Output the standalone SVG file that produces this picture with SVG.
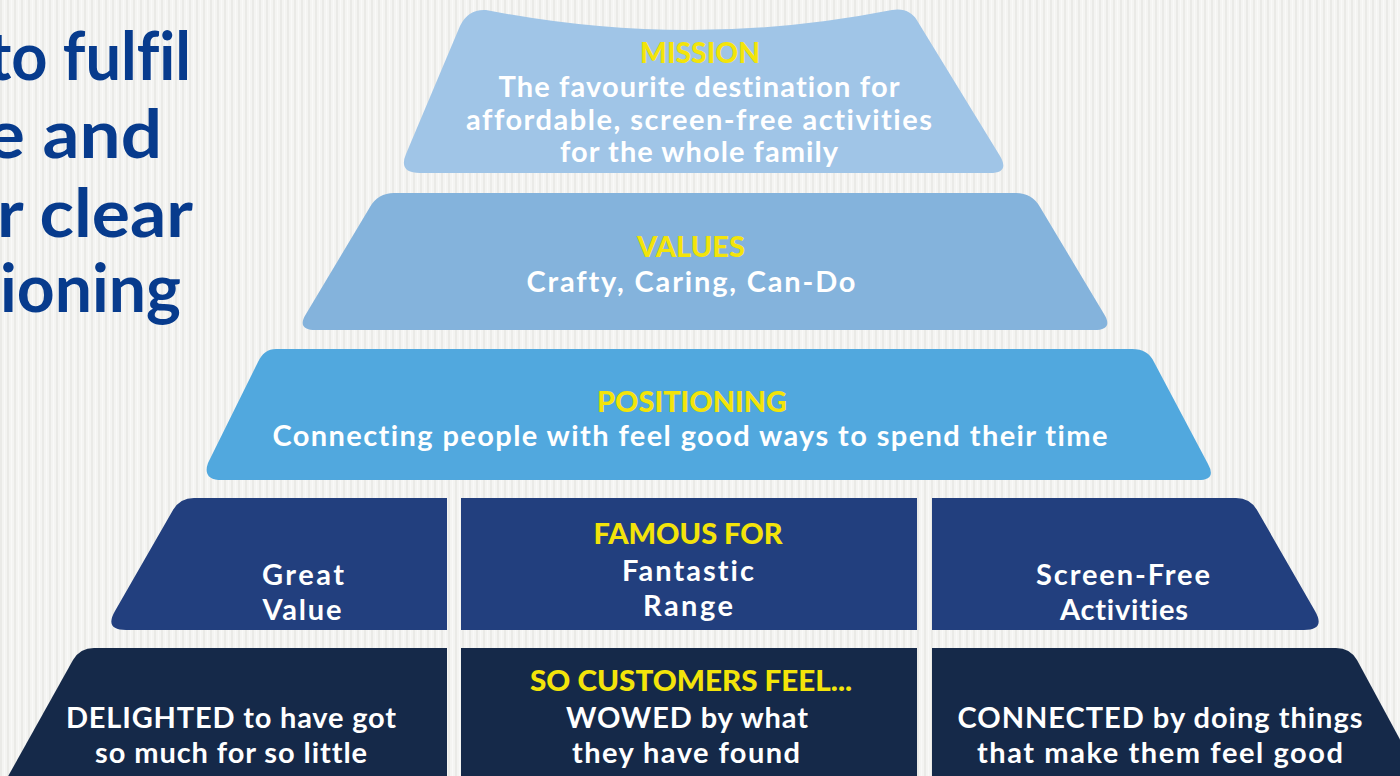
<svg xmlns="http://www.w3.org/2000/svg" width="1400" height="776" viewBox="0 0 1400 776">
  <defs>
    <!-- fine vertical ribbing of the paper background -->
    <pattern id="ribs" width="7" height="20" patternUnits="userSpaceOnUse">
      <rect width="7" height="20" fill="#f4f4f2"/>
      <rect x="0" width="2" height="20" fill="#eaeae7"/>
      <rect x="4" width="1" height="20" fill="#f9f9f8"/>
    </pattern>
    <style>
      text { font-variant-ligatures: none; }
      .t { font-family: Lato, "Liberation Sans", sans-serif; font-weight: 700; font-size: 29px; fill: #ffffff; text-anchor: middle; }
      .h { font-family: Lato, "Liberation Sans", sans-serif; font-weight: 900; font-size: 29px; fill: #f3e40a; text-anchor: middle; }
      .lead { font-family: Lato, "Liberation Sans", sans-serif; font-weight: 700; font-size: 66px; fill: #073b8d; }
      .mission { fill: #a0c5e7; }
      .values { fill: #84b3dc; }
      .positioning { fill: #51a8de; }
      .famous { fill: #223f7e; }
      .feel { fill: #152949; }
    </style>
  </defs>

  <rect width="1400" height="776" fill="url(#ribs)"/>

  <!-- headline, running off the left edge -->
  <g id="headline">
    <text class="lead" x="-12" y="80" textLength="203" lengthAdjust="spacingAndGlyphs">to fulfil</text>
    <text class="lead" x="-14" y="158" textLength="176" lengthAdjust="spacingAndGlyphs">e and</text>
    <text class="lead" x="-3" y="237" textLength="196" lengthAdjust="spacingAndGlyphs">r clear</text>
    <text class="lead" x="0" y="312" textLength="181" lengthAdjust="spacingAndGlyphs">ioning</text>
  </g>

  <!-- tier 1: mission -->
  <g id="mission">
    <path class="mission" d="M 460,26 Q 468,9 486,10 Q 689,50 892,10 Q 910,7 918,22 L 1000,156 Q 1010,173 990,173 L 420,173 Q 398,173 406,154 Z"/>
    <text class="h" x="700" y="63" textLength="120" lengthAdjust="spacingAndGlyphs">MISSION</text>
    <text class="t" x="699" y="97" textLength="401">The favourite destination for</text>
    <text class="t" x="699" y="130" textLength="466">affordable, screen-free activities</text>
    <text class="t" x="699" y="162" textLength="278">for the whole family</text>
  </g>

  <!-- tier 2: values -->
  <g id="values">
    <path class="values" d="M 394,193 L 1016,193 Q 1032,193 1040,207 L 1104,314 Q 1114,330 1094,330 L 316,330 Q 296,330 306,314 L 370,207 Q 378,193 394,193 Z"/>
    <text class="h" x="691" y="257" textLength="108" lengthAdjust="spacingAndGlyphs">VALUES</text>
    <text class="t" x="691" y="292" textLength="329">Crafty, Caring, Can-Do</text>
  </g>

  <!-- tier 3: positioning -->
  <g id="positioning">
    <path class="positioning" d="M 276,349 L 1132,349 Q 1148,349 1154,362 L 1208,464 Q 1217,480 1198,480 L 222,480 Q 202,480 208,463 L 258,362 Q 264,349 276,349 Z"/>
    <text class="h" x="692" y="412" textLength="190" lengthAdjust="spacingAndGlyphs">POSITIONING</text>
    <text class="t" x="690" y="446" textLength="835">Connecting people with feel good ways to spend their time</text>
  </g>

  <!-- tier 4: famous for -->
  <g id="famous-value">
    <path class="famous" d="M 194,498 L 447,498 L 447,630 L 126,630 Q 104,630 115,611 L 173,510 Q 180,498 194,498 Z"/>
    <text class="t" x="303" y="585" textLength="82">Great</text>
    <text class="t" x="302" y="620" textLength="79">Value</text>
  </g>
  <g id="famous-range">
    <rect class="famous" x="461" y="498" width="456" height="132"/>
    <text class="h" x="688" y="544" textLength="189" lengthAdjust="spacingAndGlyphs">FAMOUS FOR</text>
    <text class="t" x="688" y="581" textLength="132">Fantastic</text>
    <text class="t" x="688" y="616" textLength="90">Range</text>
  </g>
  <g id="famous-screen-free">
    <path class="famous" d="M 932,498 L 1236,498 Q 1250,498 1257,510 L 1315,611 Q 1326,630 1304,630 L 932,630 Z"/>
    <text class="t" x="1123" y="585" textLength="174">Screen-Free</text>
    <text class="t" x="1124" y="620" textLength="128">Activities</text>
  </g>

  <!-- tier 5: so customers feel -->
  <g id="feel-delighted">
    <path class="feel" d="M 94,648 L 447,648 L 447,780 L 6,780 L 73,660 Q 80,648 94,648 Z"/>
    <text class="t" x="231" y="728" textLength="330">DELIGHTED to have got</text>
    <text class="t" x="231" y="763" textLength="272">so much for so little</text>
  </g>
  <g id="feel-wowed">
    <rect class="feel" x="461" y="648" width="456" height="132"/>
    <text class="h" x="691" y="691" textLength="322" lengthAdjust="spacingAndGlyphs">SO CUSTOMERS FEEL...</text>
    <text class="t" x="687" y="728" textLength="242">WOWED by what</text>
    <text class="t" x="686" y="763" textLength="228">they have found</text>
  </g>
  <g id="feel-connected">
    <path class="feel" d="M 932,648 L 1336,648 Q 1350,648 1357,660 L 1422,780 L 932,780 Z"/>
    <text class="t" x="1160" y="728" textLength="405">CONNECTED by doing things</text>
    <text class="t" x="1160" y="763" textLength="366">that make them feel good</text>
  </g>
</svg>
